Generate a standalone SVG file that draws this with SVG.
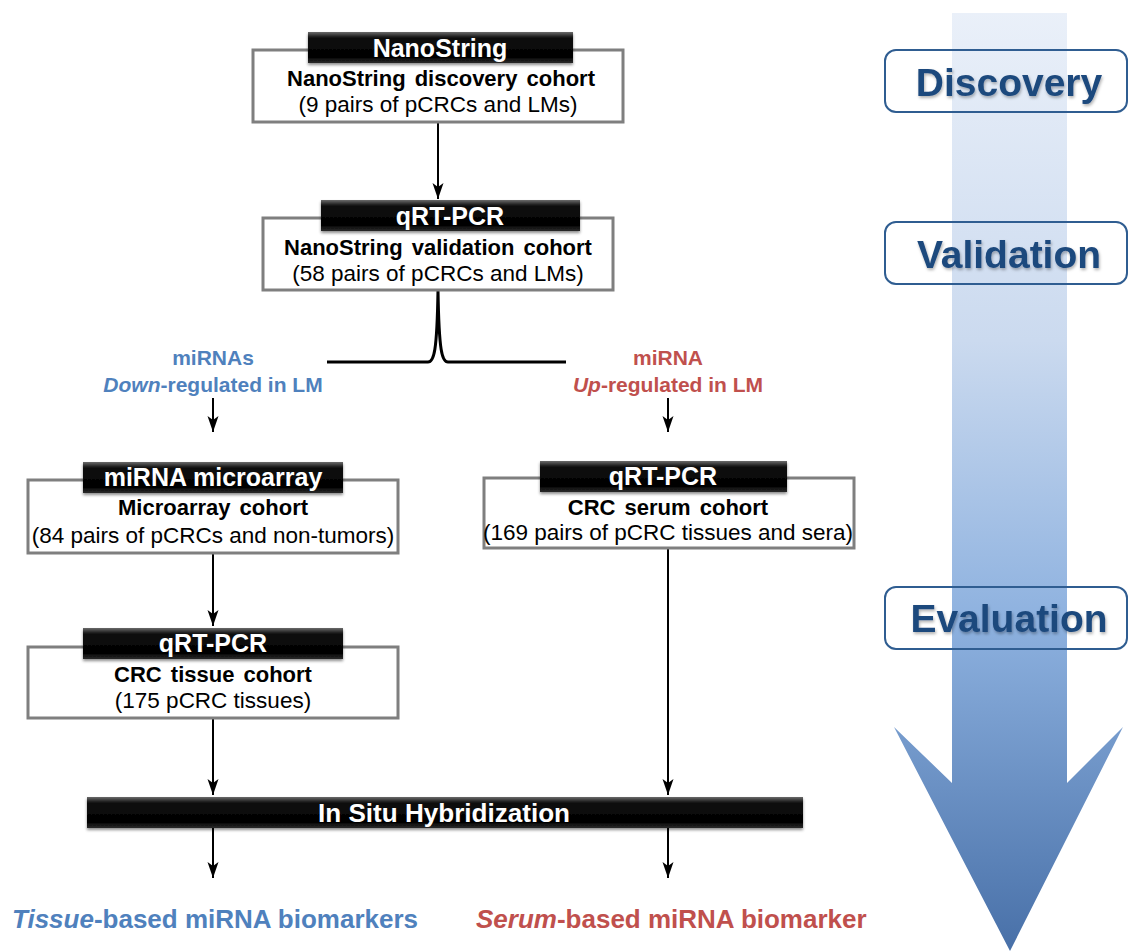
<svg xmlns="http://www.w3.org/2000/svg" width="1129" height="951" viewBox="0 0 1129 951">
<style>
.box{fill:#fff;stroke:#7f7f7f;stroke-width:3}
.hdr{fill:url(#hdrGrad);filter:url(#sh)}
.ht{font-family:"Liberation Sans",Arial,sans-serif;font-weight:bold;font-size:25px;fill:#fff;text-anchor:middle}
.b1{font-family:"Liberation Sans",Arial,sans-serif;font-weight:bold;font-size:22px;fill:#000;text-anchor:middle;word-spacing:3px}
.b2{font-family:"Liberation Sans",Arial,sans-serif;font-size:22.5px;fill:#000;text-anchor:middle}
.conn{stroke:#000;stroke-width:2;fill:none;marker-end:url(#ah)}
.lbl{fill:none;stroke:#2f5d91;stroke-width:2}
.lt{font-family:"Liberation Sans",Arial,sans-serif;font-weight:bold;font-size:39px;fill:#1f497d;text-anchor:middle;filter:url(#tsh)}
.blue{fill:#4f81bd}
.red{fill:#c0504d}
.side{font-family:"Liberation Sans",Arial,sans-serif;font-weight:bold;font-size:21px;text-anchor:middle}
.bot{font-family:"Liberation Sans",Arial,sans-serif;font-weight:bold;font-size:26px}
</style>
<defs>
<linearGradient id="arrGrad" gradientUnits="userSpaceOnUse" x1="0" y1="12" x2="0" y2="951">
<stop offset="0" stop-color="#eaf0f9"/>
<stop offset="0.35" stop-color="#cbdaef"/>
<stop offset="0.65" stop-color="#8db1df"/>
<stop offset="1" stop-color="#4870a8"/>
</linearGradient>
<linearGradient id="hdrGrad" x1="0" y1="0" x2="0" y2="1">
<stop offset="0" stop-color="#6a6a6a"/>
<stop offset="0.18" stop-color="#111"/>
<stop offset="0.8" stop-color="#000"/>
<stop offset="1" stop-color="#2a2a2a"/>
</linearGradient>
<filter id="sh" x="-5%" y="-20%" width="110%" height="150%">
<feDropShadow dx="0" dy="2" stdDeviation="1.5" flood-color="#000" flood-opacity="0.45"/>
</filter>
<filter id="tsh" x="-5%" y="-20%" width="110%" height="150%">
<feDropShadow dx="1" dy="2" stdDeviation="1.5" flood-color="#000" flood-opacity="0.3"/>
</filter>
<marker id="ah" markerWidth="20" markerHeight="14" refX="16" refY="6" orient="auto" markerUnits="userSpaceOnUse">
<path d="M16,6 L0,0.5 L4,6 L0,11.5 Z" fill="#000"/>
</marker>
</defs>

<g id="big-arrow">
<path d="M952,13 H1067 V783 L1123,727 L1010,951 L894,727 L952,783 Z" fill="url(#arrGrad)"/>
</g>

<g id="stage-discovery">
<rect class="lbl" x="885" y="50" width="242" height="62" rx="11"/>
<text class="lt" x="1009" y="96">Discovery</text>
</g>
<g id="stage-validation">
<rect class="lbl" x="885" y="222" width="242" height="62" rx="11"/>
<text class="lt" x="1009" y="268">Validation</text>
</g>
<g id="stage-evaluation">
<rect class="lbl" x="885" y="587" width="242" height="62" rx="11"/>
<text class="lt" x="1009" y="632">Evaluation</text>
</g>

<g id="connectors">
<line class="conn" x1="438" y1="122" x2="438" y2="199"/>
<path d="M327,362 H428 C434,362 437,352 438,290 C439,352 442,362 448,362 H566" fill="none" stroke="#000" stroke-width="3"/>
<line class="conn" x1="213" y1="398" x2="213" y2="432"/>
<line class="conn" x1="668" y1="398" x2="668" y2="432"/>
<line class="conn" x1="213" y1="553" x2="213" y2="626"/>
<line class="conn" x1="213" y1="718" x2="213" y2="795"/>
<line class="conn" x1="668" y1="548" x2="668" y2="795"/>
<line class="conn" x1="213" y1="828" x2="213" y2="878"/>
<line class="conn" x1="668" y1="828" x2="668" y2="878"/>
</g>

<g id="nanostring-discovery">
<rect class="box" x="253" y="50" width="370" height="72"/>
<rect class="hdr" x="308" y="32" width="265" height="31"/>
<text class="ht" x="440" y="57">NanoString</text>
<text class="b1" x="441" y="86">NanoString discovery cohort</text>
<text class="b2" x="438" y="112">(9 pairs of pCRCs and LMs)</text>
</g>

<g id="nanostring-validation">
<rect class="box" x="263" y="218" width="350" height="72"/>
<rect class="hdr" x="321" y="200" width="259" height="31"/>
<text class="ht" x="450" y="225">qRT-PCR</text>
<text class="b1" x="438" y="255">NanoString validation cohort</text>
<text class="b2" x="438" y="281">(58 pairs of pCRCs and LMs)</text>
</g>

<g id="label-down">
<text class="side blue" x="213" y="365">miRNAs</text>
<text class="side blue" x="213" y="392"><tspan font-style="italic">Down</tspan>-regulated in LM</text>
</g>
<g id="label-up">
<text class="side red" x="668" y="365">miRNA</text>
<text class="side red" x="668" y="392"><tspan font-style="italic">Up</tspan>-regulated in LM</text>
</g>

<g id="microarray-cohort">
<rect class="box" x="28" y="480" width="370" height="73"/>
<rect class="hdr" x="83" y="462" width="260" height="31"/>
<text class="ht" x="213" y="486">miRNA microarray</text>
<text class="b1" x="213" y="515">Microarray cohort</text>
<text class="b2" x="213" y="543" font-size="22">(84 pairs of pCRCs and non-tumors)</text>
</g>

<g id="tissue-cohort">
<rect class="box" x="28" y="647" width="370" height="71"/>
<rect class="hdr" x="83" y="628" width="260" height="31"/>
<text class="ht" x="213" y="652">qRT-PCR</text>
<text class="b1" x="213" y="682">CRC tissue cohort</text>
<text class="b2" x="213" y="708">(175 pCRC tissues)</text>
</g>

<g id="serum-cohort">
<rect class="box" x="484" y="478" width="370" height="70"/>
<rect class="hdr" x="540" y="461" width="247" height="31"/>
<text class="ht" x="663" y="485">qRT-PCR</text>
<text class="b1" x="668" y="515">CRC serum cohort</text>
<text class="b2" x="668" y="540" font-size="22">(169 pairs of pCRC tissues and sera)</text>
</g>

<g id="ish">
<rect class="hdr" x="87" y="797" width="716" height="31"/>
<text class="ht" x="444" y="822" font-size="28" textLength="252" lengthAdjust="spacingAndGlyphs">In Situ Hybridization</text>
</g>

<g id="tissue-biomarkers">
<text class="bot blue" x="12" y="928"><tspan font-style="italic">Tissue</tspan>-based miRNA biomarkers</text>
</g>
<g id="serum-biomarker">
<text class="bot red" x="476" y="928"><tspan font-style="italic">Serum</tspan>-based miRNA biomarker</text>
</g>
</svg>
